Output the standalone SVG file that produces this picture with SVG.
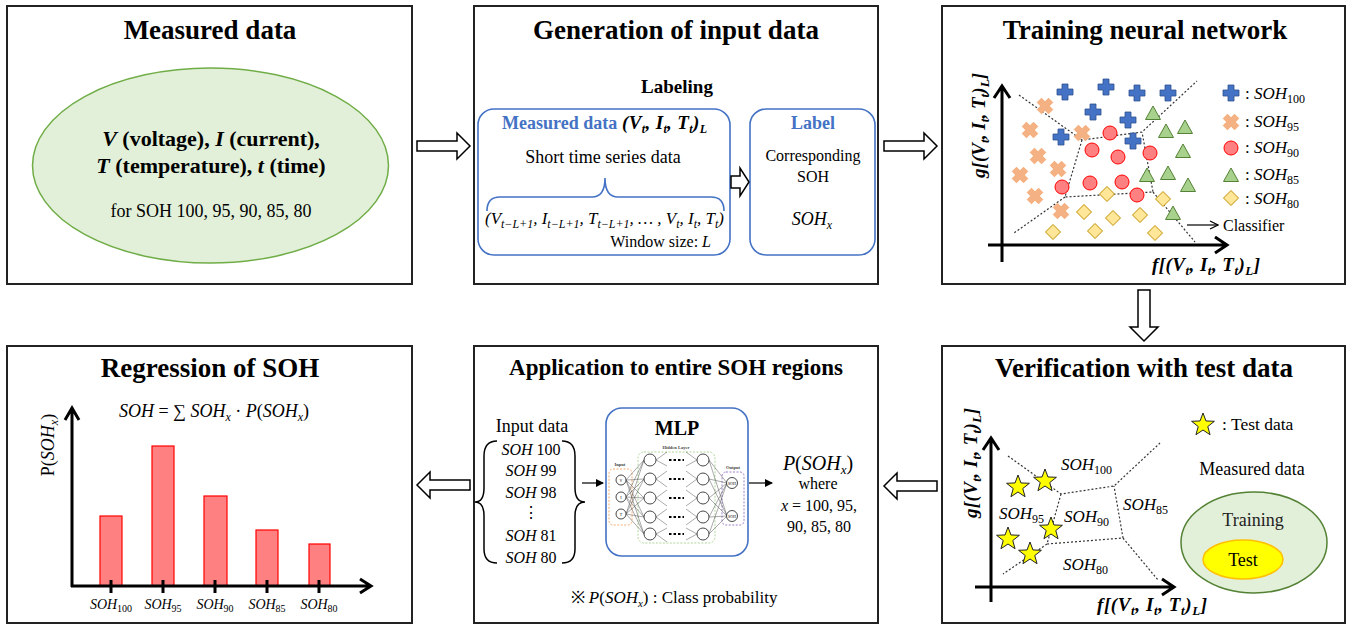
<svg xmlns="http://www.w3.org/2000/svg" width="1350" height="625" viewBox="0 0 1350 625" font-family="Liberation Serif, DejaVu Serif, serif">
<style>
text{font-family:'Liberation Serif','DejaVu Serif',serif}
.title{font-size:27px;font-weight:bold;text-anchor:middle}
.b{font-weight:bold}
.i{font-style:italic}
.c{text-anchor:middle}
.panel{fill:#fff;stroke:#222;stroke-width:2}
.blk{fill:#fff;stroke:#000;stroke-width:1.5;stroke-linejoin:miter}
.axis{fill:none;stroke:#000;stroke-width:3;stroke-linecap:butt;stroke-linejoin:miter}
.dot{fill:none;stroke:#333;stroke-width:1.2;stroke-dasharray:2,2}
.blue{fill:none;stroke:#4472c4;stroke-width:1.6}
.plus{fill:#4472c4;stroke:#2f528f;stroke-width:0.8}
.xx{fill:#f4b183;stroke:#f4a46a;stroke-width:0.8}
.circ{fill:#ff8080;stroke:#ff0000;stroke-width:1}
.tri{fill:#a9d18e;stroke:#548235;stroke-width:1}
.dia{fill:#ffe699;stroke:#bf9000;stroke-width:1}
.star{fill:#ffff00;stroke:#222;stroke-width:1}
.bar{fill:#ff8080;stroke:#ff0000;stroke-width:1.2}
.nn{fill:none;stroke:#555;stroke-width:0.5}
.node{fill:#fff;stroke:#333;stroke-width:0.9}
</style>
<defs>
<path id="mplus" d="M-3,-8 H3 V-3 H8 V3 H3 V8 H-3 V3 H-8 V-3 H-3 Z"/>
<path id="mx" d="M-3,-8 H3 V-3 H8 V3 H3 V8 H-3 V3 H-8 V-3 H-3 Z" transform="rotate(45)"/>
<circle id="mcirc" r="7"/>
<path id="mtri" d="M0,-8 L7.5,5.5 L-7.5,5.5 Z"/>
<path id="mdia" d="M0,-7.5 L7.5,0 L0,7.5 L-7.5,0 Z"/>
<path id="mstar" d="M0,-12 L2.94,-4.05 L11.41,-3.71 L4.76,1.55 L7.05,9.71 L0,5 L-7.05,9.71 L-4.76,1.55 L-11.41,-3.71 L-2.94,-4.05 Z"/>
<marker id="ah" markerWidth="8" markerHeight="8" refX="7" refY="4" orient="auto" markerUnits="userSpaceOnUse"><path d="M0,0 L8,4 L0,8 Z" fill="#000"/></marker>
<marker id="ahOpen" markerWidth="10" markerHeight="10" refX="9" refY="5" orient="auto" markerUnits="userSpaceOnUse"><path d="M1,1 L9,5 L1,9" fill="none" stroke="#000" stroke-width="1.2"/></marker>
</defs>

<!-- Panel 1 -->
<g id="measured-data">
<rect class="panel" x="7" y="6" width="405" height="278"/>
<text class="title" x="210" y="39">Measured data</text>
<ellipse cx="210.5" cy="165.5" rx="178" ry="97.5" fill="#e2f0d9" stroke="#70ad47" stroke-width="1.5"/>
<text class="b c" x="211" y="146" font-size="22"><tspan class="i">V</tspan> (voltage), <tspan class="i">I</tspan> (current),</text>
<text class="b c" x="211" y="173" font-size="22"><tspan class="i">T</tspan> (temperature), <tspan class="i">t</tspan> (time)</text>
<text class="c" x="211" y="217" font-size="18">for SOH 100, 95, 90, 85, 80</text>
</g>

<!-- Panel 2 -->
<g id="generation">
<rect class="panel" x="474" y="6" width="404" height="278"/>
<text class="title" x="676" y="39">Generation of input data</text>
<text class="b c" x="677" y="93" font-size="19">Labeling</text>
<rect class="blue" x="478" y="109" width="252" height="146" rx="16"/>
<rect class="blue" x="750" y="109" width="125" height="146" rx="16"/>
<text x="502" y="129" font-size="18" class="b" fill="#4472c4">Measured data</text>
<text x="622" y="129" font-size="19" class="b i" textLength="85" lengthAdjust="spacing">(V<tspan font-size="12" dy="4">t</tspan><tspan dy="-4">, I</tspan><tspan font-size="12" dy="4">t</tspan><tspan dy="-4">, T</tspan><tspan font-size="12" dy="4">t</tspan><tspan dy="-4">)</tspan><tspan font-size="12" dy="4">L</tspan></text>
<text class="c" x="603" y="163" font-size="18">Short time series data</text>
<path class="blue" d="M487,211 Q487,197 500,197 L592,197 Q605,197 605,178 Q605,197 618,197 L711,197 Q724,197 724,211"/>
<text x="485" y="224" font-size="17" class="i" textLength="239" lengthAdjust="spacingAndGlyphs">(V<tspan font-size="12" dy="4">t−L+1</tspan><tspan dy="-4">, I</tspan><tspan font-size="12" dy="4">t−L+1</tspan><tspan dy="-4">, T</tspan><tspan font-size="12" dy="4">t−L+1</tspan><tspan dy="-4">, … , V</tspan><tspan font-size="12" dy="4">t</tspan><tspan dy="-4">, I</tspan><tspan font-size="12" dy="4">t</tspan><tspan dy="-4">, T</tspan><tspan font-size="12" dy="4">t</tspan><tspan dy="-4">)</tspan></text>
<text x="711" y="247" font-size="16" text-anchor="end">Window size: <tspan class="i">L</tspan></text>
<path class="blk" d="M731,176 H740 V168 L749,182 L740,196 V188 H731 Z"/>
<text class="b c" x="813" y="129" font-size="18" fill="#4472c4">Label</text>
<text class="c" x="813" y="161" font-size="16">Corresponding</text>
<text class="c" x="813" y="182" font-size="16">SOH</text>
<text class="c i" x="812" y="225" font-size="18">SOH<tspan font-size="12" dy="4">x</tspan></text>
</g>

<!-- Panel 3 -->
<g id="training">
<rect class="panel" x="942" y="6" width="403" height="278"/>
<text class="title" x="1145" y="39">Training neural network</text>
<path class="dot" d="M1019,95 L1082,140 L1142,132 L1197,81 M1082,140 L1065,197 L1153,192 L1142,132 M1065,197 L1014,233 M1153,192 L1195,242"/>
<g>
<use href="#mplus" class="plus" x="1065" y="92"/>
<use href="#mplus" class="plus" x="1106" y="87"/>
<use href="#mplus" class="plus" x="1137" y="93"/>
<use href="#mplus" class="plus" x="1168" y="93"/>
<use href="#mplus" class="plus" x="1093" y="112"/>
<use href="#mplus" class="plus" x="1128" y="120"/>
<use href="#mplus" class="plus" x="1061" y="137"/>
<use href="#mplus" class="plus" x="1133" y="141"/>
<use href="#mx" class="xx" x="1045" y="106"/>
<use href="#mx" class="xx" x="1030" y="130"/>
<use href="#mx" class="xx" x="1082" y="133"/>
<use href="#mx" class="xx" x="1038" y="156"/>
<use href="#mx" class="xx" x="1020" y="175"/>
<use href="#mx" class="xx" x="1058" y="169"/>
<use href="#mx" class="xx" x="1035" y="196"/>
<use href="#mx" class="xx" x="1061" y="211"/>
<use href="#mcirc" class="circ" x="1110" y="133"/>
<use href="#mcirc" class="circ" x="1092" y="150"/>
<use href="#mcirc" class="circ" x="1118" y="157"/>
<use href="#mcirc" class="circ" x="1150" y="153"/>
<use href="#mcirc" class="circ" x="1090" y="183"/>
<use href="#mcirc" class="circ" x="1122" y="182"/>
<use href="#mcirc" class="circ" x="1062" y="187"/>
<use href="#mcirc" class="circ" x="1137" y="195"/>
<use href="#mtri" class="tri" x="1153" y="114"/>
<use href="#mtri" class="tri" x="1166" y="132"/>
<use href="#mtri" class="tri" x="1185" y="128"/>
<use href="#mtri" class="tri" x="1183" y="152"/>
<use href="#mtri" class="tri" x="1147" y="176"/>
<use href="#mtri" class="tri" x="1168" y="174"/>
<use href="#mtri" class="tri" x="1188" y="186"/>
<use href="#mtri" class="tri" x="1173" y="214"/>
<use href="#mdia" class="dia" x="1107" y="194"/>
<use href="#mdia" class="dia" x="1163" y="199"/>
<use href="#mdia" class="dia" x="1084" y="212"/>
<use href="#mdia" class="dia" x="1113" y="218"/>
<use href="#mdia" class="dia" x="1140" y="215"/>
<use href="#mdia" class="dia" x="1053" y="232"/>
<use href="#mdia" class="dia" x="1095" y="231"/>
<use href="#mdia" class="dia" x="1155" y="233"/>
</g>
<path class="axis" d="M1002,262 V87 M994,98 L1002,86 L1010,98"/>
<path class="axis" d="M988,245 H1226 M1215,237 L1227,245 L1215,253"/>
<text class="b i" font-size="19" transform="translate(985,178) rotate(-90)" textLength="105" lengthAdjust="spacing">g[(V<tspan font-size="13" dy="4">t</tspan><tspan dy="-4">, I</tspan><tspan font-size="13" dy="4">t</tspan><tspan dy="-4">, T</tspan><tspan font-size="13" dy="4">t</tspan><tspan dy="-4">)</tspan><tspan font-size="13" dy="4">L</tspan><tspan dy="-4">]</tspan></text>
<text class="b i" font-size="19" x="1152" y="271" textLength="108" lengthAdjust="spacing">f[(V<tspan font-size="13" dy="4">t</tspan><tspan dy="-4">, I</tspan><tspan font-size="13" dy="4">t</tspan><tspan dy="-4">, T</tspan><tspan font-size="13" dy="4">t</tspan><tspan dy="-4">)</tspan><tspan font-size="13" dy="4">L</tspan><tspan dy="-4">]</tspan></text>
<line x1="1187" y1="225" x2="1218" y2="225" stroke="#000" stroke-width="1.2" marker-end="url(#ahOpen)"/>
<text x="1223" y="231" font-size="16">Classifier</text>
<g font-size="17">
<use href="#mplus" class="plus" x="1231" y="93"/>
<text x="1245" y="99">: <tspan class="i">SOH</tspan><tspan font-size="12" dy="4">100</tspan></text>
<use href="#mx" class="xx" x="1231" y="122"/>
<text x="1245" y="127">: <tspan class="i">SOH</tspan><tspan font-size="12" dy="4">95</tspan></text>
<use href="#mcirc" class="circ" x="1231" y="148"/>
<text x="1245" y="153">: <tspan class="i">SOH</tspan><tspan font-size="12" dy="4">90</tspan></text>
<use href="#mtri" class="tri" x="1231" y="176"/>
<text x="1245" y="180">: <tspan class="i">SOH</tspan><tspan font-size="12" dy="4">85</tspan></text>
<use href="#mdia" class="dia" x="1231" y="198"/>
<text x="1245" y="204">: <tspan class="i">SOH</tspan><tspan font-size="12" dy="4">80</tspan></text>
</g>
</g>

<!-- Panel 4 -->
<g id="regression">
<rect class="panel" x="7" y="346" width="405" height="277"/>
<text class="title" x="210" y="377">Regression of SOH</text>
<text class="c" x="214" y="417" font-size="18"><tspan class="i">SOH</tspan> = ∑ <tspan class="i">SOH</tspan><tspan class="i" font-size="12" dy="4">x</tspan><tspan dy="-4"> · </tspan><tspan class="i">P</tspan>(<tspan class="i">SOH</tspan><tspan class="i" font-size="12" dy="4">x</tspan><tspan dy="-4">)</tspan></text>
<rect class="bar" x="100" y="516" width="22" height="70"/>
<rect class="bar" x="152" y="446" width="22" height="140"/>
<rect class="bar" x="204" y="496" width="23" height="90"/>
<rect class="bar" x="256" y="530" width="22" height="56"/>
<rect class="bar" x="309" y="544" width="21" height="42"/>
<path class="axis" stroke-width="2.5" d="M72,587 V410 M65,420 L72,408 L79,420"/>
<path class="axis" stroke-width="2.5" d="M71,586 H370 M360,579 L371,586 L360,593"/>
<path class="axis" d="M111,580 V593 M163,580 V593 M215,580 V593 M267,580 V593 M319,580 V593"/>
<text class="c" font-size="18" transform="translate(54,445) rotate(-90)">P(<tspan class="i">SOH</tspan><tspan class="i" font-size="12" dy="4">x</tspan><tspan dy="-4">)</tspan></text>
<g font-size="14" class="i">
<text class="c" x="111" y="609">SOH<tspan font-size="10" dy="3" font-style="normal">100</tspan></text>
<text class="c" x="163" y="609">SOH<tspan font-size="10" dy="3" font-style="normal">95</tspan></text>
<text class="c" x="215" y="609">SOH<tspan font-size="10" dy="3" font-style="normal">90</tspan></text>
<text class="c" x="267" y="609">SOH<tspan font-size="10" dy="3" font-style="normal">85</tspan></text>
<text class="c" x="319" y="609">SOH<tspan font-size="10" dy="3" font-style="normal">80</tspan></text>
</g>
</g>

<!-- Panel 5 -->
<g id="application">
<rect class="panel" x="474" y="346" width="404" height="277"/>
<text class="b c" x="676" y="375" font-size="23">Application to entire SOH regions</text>
<text class="c" x="532" y="432" font-size="18">Input data</text>
<path fill="none" stroke="#000" stroke-width="1.5" d="M497,441 Q484,441 484,456 L484,488 Q484,502 475,502 Q484,502 484,516 L484,549 Q484,563 497,563"/>
<path fill="none" stroke="#000" stroke-width="1.5" d="M562,441 Q575,441 575,456 L575,488 Q575,502 585,502 Q575,502 575,516 L575,549 Q575,563 562,563"/>
<g font-size="16">
<text class="c" x="531" y="455"><tspan class="i">SOH</tspan> 100</text>
<text class="c" x="531" y="476"><tspan class="i">SOH</tspan> 99</text>
<text class="c" x="531" y="498"><tspan class="i">SOH</tspan> 98</text>
<text class="c" x="531" y="518">⋮</text>
<text class="c" x="531" y="541"><tspan class="i">SOH</tspan> 81</text>
<text class="c" x="531" y="563"><tspan class="i">SOH</tspan> 80</text>
</g>
<line x1="582" y1="483" x2="603" y2="483" stroke="#000" stroke-width="1.2" marker-end="url(#ah)"/>
<rect class="blue" x="606" y="408" width="142" height="148" rx="16"/>
<text class="b c" x="677" y="435" font-size="20">MLP</text>
<text class="b c" x="676" y="449" font-size="4.5" fill="#444">Hidden Layer</text>
<text class="b c" x="620" y="466" font-size="4.5" fill="#444">Input</text>
<text class="b c" x="733" y="469" font-size="4.5" fill="#444">Output</text>
<rect x="609" y="469" width="23" height="56" rx="4" fill="none" stroke="#f4a460" stroke-width="0.9" stroke-dasharray="2,1.5"/>
<rect x="638" y="452" width="77" height="91" rx="6" fill="none" stroke="#a9d18e" stroke-width="0.9" stroke-dasharray="2,1.5"/>
<rect x="722" y="472" width="22" height="53" rx="4" fill="none" stroke="#9673c4" stroke-width="0.9" stroke-dasharray="2,1.5"/>
<path class="nn" d="M626,480 L644,460 M626,480 L644,479 M626,480 L644,498 M626,480 L644,517 M626,480 L644,534 M626,497 L644,460 M626,497 L644,479 M626,497 L644,498 M626,497 L644,517 M626,497 L644,534 M626,514 L644,460 M626,514 L644,479 M626,514 L644,498 M626,514 L644,517 M626,514 L644,534 M656,460 L667,452 M656,460 L667,466 M656,479 L667,471 M656,479 L667,487 M656,498 L667,490 M656,498 L667,506 M656,517 L667,509 M656,517 L667,525 M656,534 L667,528 M656,534 L667,542 M686,452 L697,460 M686,466 L697,460 M686,471 L697,479 M686,487 L697,479 M686,490 L697,498 M686,506 L697,498 M686,509 L697,517 M686,525 L697,517 M686,528 L697,534 M686,540 L697,534 M709,460 L727,483 M709,479 L727,483 M709,498 L727,483 M709,517 L727,483 M709,534 L727,483 M709,460 L727,516 M709,479 L727,516 M709,498 L727,516 M709,517 L727,516 M709,534 L727,516"/>
<g class="node">
<circle cx="621" cy="480" r="5"/><circle cx="621" cy="497" r="5"/><circle cx="621" cy="514" r="5"/>
<circle cx="650" cy="460" r="6"/><circle cx="650" cy="479" r="6"/><circle cx="650" cy="498" r="6"/><circle cx="650" cy="517" r="6"/><circle cx="650" cy="534" r="6"/>
<circle cx="703" cy="460" r="6"/><circle cx="703" cy="479" r="6"/><circle cx="703" cy="498" r="6"/><circle cx="703" cy="517" r="6"/><circle cx="703" cy="534" r="6"/>
<circle cx="732" cy="483" r="5.5"/><circle cx="732" cy="516" r="5.5"/>
</g>
<g font-size="4" class="c">
<text x="621" y="481.5">V</text><text x="621" y="498.5">I</text><text x="621" y="515.5">T</text>
<text x="732" y="484.5">SOH</text><text x="732" y="517.5">SOH</text>
</g>
<path fill="none" stroke="#000" stroke-width="2.2" stroke-dasharray="2.5,2" d="M669,460 H684 M669,479 H684 M669,498 H684 M669,517 H684 M669,534 H684"/>
<line x1="749" y1="483" x2="772" y2="483" stroke="#000" stroke-width="1.2" marker-end="url(#ah)"/>
<text class="c" x="818" y="470" font-size="20"><tspan class="i">P</tspan>(<tspan class="i">SOH</tspan><tspan class="i" font-size="13" dy="4">x</tspan><tspan dy="-4">)</tspan></text>
<text class="c" x="818" y="489" font-size="16">where</text>
<text class="c" x="819" y="511" font-size="16"><tspan class="i">x</tspan> = 100, 95,</text>
<text class="c" x="819" y="532" font-size="16">90, 85, 80</text>
<text class="c" x="674" y="603" font-size="17">※ <tspan class="i">P</tspan>(<tspan class="i">SOH</tspan><tspan class="i" font-size="11" dy="4">x</tspan><tspan dy="-4">) : Class probability</tspan></text>
</g>

<!-- Panel 6 -->
<g id="verification">
<rect class="panel" x="942" y="346" width="403" height="277"/>
<text class="title" x="1144" y="377">Verification with test data</text>
<path class="dot" d="M1008,456 L1061,494 L1114,486 L1160,443 M1061,494 L1047,544 L1123,538 L1114,486 M1047,544 L1003,574 M1123,538 L1158,580"/>
<g font-size="17" class="i">
<text x="1061" y="470">SOH<tspan font-size="12" dy="4" font-style="normal">100</tspan></text>
<text x="999" y="519">SOH<tspan font-size="12" dy="4" font-style="normal">95</tspan></text>
<text x="1064" y="522">SOH<tspan font-size="12" dy="4" font-style="normal">90</tspan></text>
<text x="1123" y="510">SOH<tspan font-size="12" dy="4" font-style="normal">85</tspan></text>
<text x="1063" y="570">SOH<tspan font-size="12" dy="4" font-style="normal">80</tspan></text>
</g>
<use href="#mstar" class="star" x="1018" y="487"/>
<use href="#mstar" class="star" x="1045" y="481"/>
<use href="#mstar" class="star" x="1051" y="529"/>
<use href="#mstar" class="star" x="1008" y="539"/>
<use href="#mstar" class="star" x="1030" y="554"/>
<path class="axis" d="M991,602 V439 M983,450 L991,438 L999,450"/>
<path class="axis" d="M975,587 H1173 M1162,579 L1174,587 L1162,595"/>
<text class="b i" font-size="19" transform="translate(977,518) rotate(-90)" textLength="110" lengthAdjust="spacing">g[(V<tspan font-size="13" dy="4">t</tspan><tspan dy="-4">, I</tspan><tspan font-size="13" dy="4">t</tspan><tspan dy="-4">, T</tspan><tspan font-size="13" dy="4">t</tspan><tspan dy="-4">)</tspan><tspan font-size="13" dy="4">L</tspan><tspan dy="-4">]</tspan></text>
<text class="b i" font-size="19" x="1097" y="611" textLength="110" lengthAdjust="spacing">f[(V<tspan font-size="13" dy="4">t</tspan><tspan dy="-4">, I</tspan><tspan font-size="13" dy="4">t</tspan><tspan dy="-4">, T</tspan><tspan font-size="13" dy="4">t</tspan><tspan dy="-4">)</tspan><tspan font-size="13" dy="4">L</tspan><tspan dy="-4">]</tspan></text>
<use href="#mstar" class="star" x="1203" y="425"/>
<text x="1222" y="430" font-size="17.5">: Test data</text>
<text class="c" x="1252" y="475" font-size="18">Measured data</text>
<ellipse cx="1254" cy="542.5" rx="73" ry="50.5" fill="#e2f0d9" stroke="#548235" stroke-width="1.5"/>
<text class="c" x="1253" y="526" font-size="18" fill="#222">Training</text>
<ellipse cx="1243" cy="559.5" rx="40" ry="19.5" fill="#ffff00" stroke="#ffc000" stroke-width="1.5"/>
<text class="c" x="1243" y="566" font-size="18">Test</text>
</g>

<!-- Connectors -->
<g id="connectors">
<path class="blk" d="M417,141 H457 V133 L470,146 L457,159 V151 H417 Z"/>
<path class="blk" d="M884,141 H924 V133 L937,146 L924,159 V151 H884 Z"/>
<path class="blk" d="M1138,290 V327 H1130 L1144,341 L1158,327 H1150 V290 Z"/>
<path class="blk" d="M937,481 H897 V473 L884,486 L897,499 V491 H937 Z"/>
<path class="blk" d="M470,480 H430 V472 L417,485 L430,498 V490 H470 Z"/>
</g>
</svg>
